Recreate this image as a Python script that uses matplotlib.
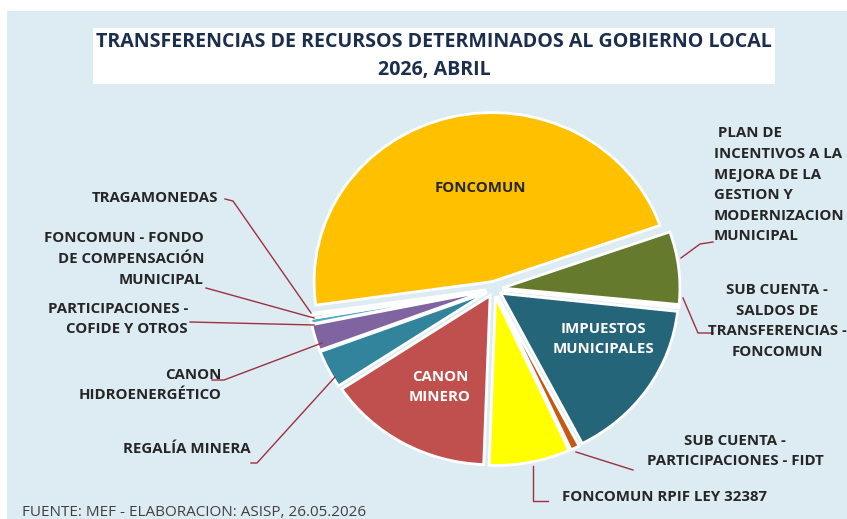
import matplotlib
matplotlib.use("Agg")
import matplotlib.pyplot as plt
from matplotlib.patches import Rectangle

plt.rcParams['font.family'] = ['Open Sans', 'DejaVu Sans']

# ---- data ----
categories = [
    "FONCOMUN",
    "PLAN DE INCENTIVOS A LA MEJORA DE LA GESTION Y MODERNIZACION MUNICIPAL",
    "SUB CUENTA - SALDOS DE TRANSFERENCIAS - FONCOMUN",
    "IMPUESTOS MUNICIPALES",
    "SUB CUENTA - PARTICIPACIONES - FIDT",
    "FONCOMUN RPIF LEY 32387",
    "CANON MINERO",
    "REGALÍA MINERA",
    "CANON HIDROENERGÉTICO",
    "PARTICIPACIONES - COFIDE Y OTROS",
    "FONCOMUN - FONDO DE COMPENSACIÓN MUNICIPAL",
    "TRAGAMONEDAS",
]
shares = [46.5, 6.9, 0.15, 15.6, 0.8, 7.3, 15.0, 3.6, 2.5, 0.5, 0.3, 0.15]
colors = ["#FFC000", "#667A2E", "#8EA9DB", "#256579", "#C55A11", "#FFFF00",
          "#C0504D", "#31849B", "#8064A2", "#4BACC6", "#9BBB59", "#F79646"]

W, H = 847, 519
K = 1.053  # slight vertical squash of the original image
fig = plt.figure(figsize=(W / 100, H / 100), dpi=100)
fig.patch.set_facecolor("white")
ax = fig.add_axes([0, 0, 1, 1])

def Y(py):
    return (H - py) * K

# background panel
ax.add_patch(Rectangle((7, 0), W - 7, Y(11), facecolor="#DDEBF3", edgecolor="none", zorder=0))
# title box
ax.add_patch(Rectangle((93, Y(84)), 682, 56 * K, facecolor="white", edgecolor="none", zorder=1))
tkw = dict(ha="center", va="center", fontsize=14.1, fontweight="bold", color="#1B2E4E", zorder=2)
ax.text(434, Y(42), "TRANSFERENCIAS DE RECURSOS DETERMINADOS AL GOBIERNO LOCAL", **tkw)
ax.text(434, Y(70), "2026, ABRIL", **tkw)

# pie (explode in data units)
explode = [8] * len(shares)
wedges, _ = ax.pie(shares, colors=colors, startangle=188, counterclock=False,
                   center=(494, Y(289)), radius=178, explode=explode,
                   wedgeprops=dict(edgecolor="white", linewidth=2), frame=True)
ax.set_xlim(0, W)
ax.set_ylim(0, H * K)
ax.set_aspect("auto")
ax.axis("off")

lab = dict(fontsize=10.8, fontweight="bold", color="#262626", linespacing=1.6, zorder=5)
ax.text(480, Y(188), "FONCOMUN", ha="center", va="center", **lab)
ax.text(603, Y(339), "IMPUESTOS\nMUNICIPALES", ha="center", va="center",
        **{**lab, "color": "white"})
ax.text(440, Y(387), "CANON\nMINERO", ha="center", va="center",
        **{**lab, "color": "white"})

ax.text(714, Y(185), " PLAN DE\nINCENTIVOS A LA\nMEJORA DE LA\nGESTION Y\nMODERNIZACION\nMUNICIPAL",
        ha="left", va="center", **lab)
ax.text(777, Y(321), "SUB CUENTA -\nSALDOS DE\nTRANSFERENCIAS -\nFONCOMUN",
        ha="center", va="center", **lab)
ax.text(735, Y(451), "SUB CUENTA -\nPARTICIPACIONES - FIDT", ha="center", va="center", **lab)
ax.text(562, Y(497), "FONCOMUN RPIF LEY 32387", ha="left", va="center", **lab)
ax.text(218, Y(198), "TRAGAMONEDAS", ha="right", va="center", **lab)
ax.text(204, Y(259), "FONCOMUN - FONDO\nDE COMPENSACIÓN\nMUNICIPAL", ha="right", va="center", **lab)
ax.text(188, Y(319), "PARTICIPACIONES -\nCOFIDE Y OTROS", ha="right", va="center", **lab)
ax.text(222, Y(385), "CANON\nHIDROENERGÉTICO", ha="right", va="center", **lab)
ax.text(251, Y(449), "REGALÍA MINERA", ha="right", va="center", **lab)

ax.text(22, Y(512), "FUENTE: MEF - ELABORACION: ASISP, 26.05.2026", ha="left", va="center",
        fontsize=11, color="#404040", zorder=5)

# leader lines
lc = dict(color="#9E3040", lw=1.0, zorder=4)
leaders = [
    [(681, 258), (700, 244), (713, 242)],
    [(683, 298), (698, 333), (713, 333)],
    [(576, 452), (614, 464), (633, 470)],
    [(533, 466), (533, 501), (548, 501)],
    [(225, 199), (233, 201), (311, 313)],
    [(206, 288), (314, 318)],
    [(190, 322), (314, 325)],
    [(212, 380), (224, 380), (322, 343)],
    [(251, 463), (257, 463), (335, 377)],
]
for pts in leaders:
    ax.plot([p[0] for p in pts], [Y(p[1]) for p in pts], **lc)

fig.savefig("out.png", dpi=100, facecolor="white")
